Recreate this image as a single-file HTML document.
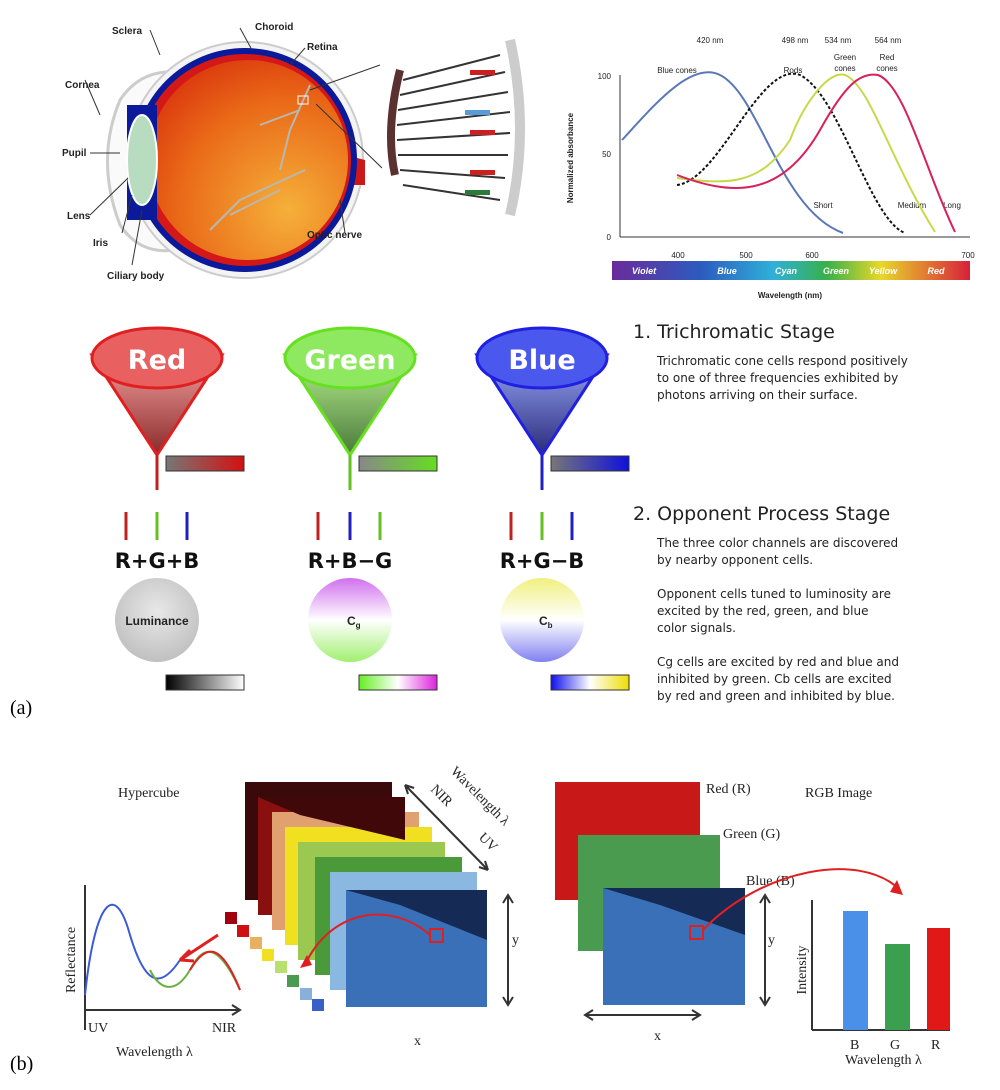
<!DOCTYPE html>
<html><head><meta charset="utf-8"><style>
body{margin:0;background:#fff;}
svg{display:block;font-family:"Liberation Sans",sans-serif;}
.s{font-family:"Liberation Serif",serif;}
.dv{font-family:"DejaVu Sans",sans-serif;}
</style></head><body>
<svg width="1000" height="1090" viewBox="0 0 1000 1090">
<defs>
<radialGradient id="eye" cx="0.7" cy="0.75" r="0.9"><stop offset="0" stop-color="#f5b03a"/><stop offset="0.6" stop-color="#ea6a18"/><stop offset="1" stop-color="#d8300c"/></radialGradient>
<linearGradient id="spec" x1="0" x2="1"><stop offset="0" stop-color="#6a2c9a"/><stop offset="0.25" stop-color="#2c5cc0"/><stop offset="0.45" stop-color="#2fb0d8"/><stop offset="0.6" stop-color="#38b04a"/><stop offset="0.75" stop-color="#e8d82a"/><stop offset="1" stop-color="#d8203a"/></linearGradient>
<linearGradient id="rc" x1="0" y1="0" x2="0" y2="1"><stop offset="0" stop-color="#f4a0a0"/><stop offset="1" stop-color="#8a2a2a"/></linearGradient>
<linearGradient id="gc" x1="0" y1="0" x2="0" y2="1"><stop offset="0" stop-color="#b8f090"/><stop offset="1" stop-color="#4a7a3a"/></linearGradient>
<linearGradient id="bc" x1="0" y1="0" x2="0" y2="1"><stop offset="0" stop-color="#9aa8f8"/><stop offset="1" stop-color="#2a2a7a"/></linearGradient>
<linearGradient id="rb" x1="0" x2="1"><stop offset="0" stop-color="#777"/><stop offset="1" stop-color="#d41010"/></linearGradient>
<linearGradient id="gb" x1="0" x2="1"><stop offset="0" stop-color="#888"/><stop offset="1" stop-color="#66dd22"/></linearGradient>
<linearGradient id="bb" x1="0" x2="1"><stop offset="0" stop-color="#777"/><stop offset="1" stop-color="#1010dd"/></linearGradient>
<linearGradient id="lb" x1="0" x2="1"><stop offset="0" stop-color="#000"/><stop offset="1" stop-color="#fff"/></linearGradient>
<linearGradient id="cgb" x1="0" x2="1"><stop offset="0" stop-color="#66ee22"/><stop offset="0.5" stop-color="#fff"/><stop offset="1" stop-color="#dd22dd"/></linearGradient>
<linearGradient id="cbb" x1="0" x2="1"><stop offset="0" stop-color="#1010ee"/><stop offset="0.5" stop-color="#fff"/><stop offset="1" stop-color="#eedd00"/></linearGradient>
<radialGradient id="lum" cx="0.5" cy="0.4" r="0.6"><stop offset="0" stop-color="#e8e8e8"/><stop offset="1" stop-color="#c0c0c0"/></radialGradient>
<linearGradient id="cg" x1="0" y1="0" x2="0" y2="1"><stop offset="0" stop-color="#d070ee"/><stop offset="0.5" stop-color="#fff"/><stop offset="1" stop-color="#a0f070"/></linearGradient>
<linearGradient id="cb" x1="0" y1="0" x2="0" y2="1"><stop offset="0" stop-color="#f0f080"/><stop offset="0.5" stop-color="#fff"/><stop offset="1" stop-color="#8080f0"/></linearGradient>
</defs>

<!-- Eye -->
<path d="M120,100 Q95,160 120,225 Q140,255 175,250 L175,72 Q140,70 120,100Z" fill="#fafafa" stroke="#ccc" stroke-width="3"/>
<circle cx="245" cy="160" r="118" fill="#f4f4f4" stroke="#ccc" stroke-width="2"/>
<path d="M325,150 L365,160 L365,185 L320,185Z" fill="#cc1818"/>
<circle cx="245" cy="160" r="112" fill="#0a1a9a"/>
<circle cx="245" cy="160" r="106" fill="#d41818"/>
<circle cx="248" cy="160" r="100" fill="url(#eye)"/>
<rect x="127" y="105" width="30" height="115" fill="#0a1a9a"/>
<ellipse cx="142" cy="160" rx="15" ry="45" fill="#b8dcc0" stroke="#fff" stroke-width="2"/>
<path d="M310,85 L290,130 L280,170 M300,110 L260,125 M305,170 L240,200 L210,230 M280,190 L230,215" stroke="#b8b8b0" stroke-width="2" fill="none"/>
<rect x="298" y="96" width="10" height="8" fill="none" stroke="#fff"/>
<g stroke="#333" stroke-width="1" fill="none">
<path d="M150,30 L160,55 M240,28 L252,50 M305,48 L290,65 M85,80 L100,115 M90,153 L120,153 M90,215 L128,178 M122,233 L132,195 M132,265 L142,210 M345,233 L340,200 M310,90 L380,65 M316,104 L382,168"/>
</g>
<g font-size="10" font-weight="bold" fill="#222">
<text x="112" y="34">Sclera</text><text x="255" y="30">Choroid</text><text x="307" y="50">Retina</text>
<text x="65" y="88">Cornea</text><text x="62" y="156">Pupil</text><text x="67" y="219">Lens</text>
<text x="93" y="246">Iris</text><text x="107" y="279">Ciliary body</text><text x="307" y="238">Optic nerve</text>
</g>
<!-- retina fan -->
<path d="M400,70 Q385,130 395,175" stroke="#5a3030" stroke-width="8" fill="none"/>
<g stroke="#333" stroke-width="2">
<line x1="403" y1="80" x2="500" y2="55"/><line x1="400" y1="95" x2="505" y2="72"/><line x1="398" y1="110" x2="508" y2="92"/><line x1="397" y1="125" x2="510" y2="112"/><line x1="397" y1="140" x2="510" y2="133"/><line x1="398" y1="155" x2="508" y2="155"/><line x1="400" y1="170" x2="505" y2="178"/><line x1="403" y1="185" x2="500" y2="200"/>
</g>
<g fill="#cc2020"><rect x="470" y="70" width="25" height="5"/><rect x="470" y="130" width="25" height="5"/><rect x="470" y="170" width="25" height="5"/></g>
<rect x="465" y="110" width="25" height="5" fill="#5a9ad8"/><rect x="465" y="190" width="25" height="5" fill="#2a7a3a"/>
<path d="M510,40 Q530,130 510,215" stroke="#ccc" stroke-width="10" fill="none"/>

<!-- spectral chart -->
<g stroke="#333" stroke-width="1"><line x1="620" y1="75" x2="620" y2="237"/><line x1="620" y1="237" x2="970" y2="237"/></g>
<g font-size="8" fill="#222">
<text x="611" y="79" text-anchor="end">100</text><text x="611" y="157" text-anchor="end">50</text><text x="611" y="240" text-anchor="end">0</text>
<text x="678" y="258" text-anchor="middle">400</text><text x="746" y="258" text-anchor="middle">500</text><text x="812" y="258" text-anchor="middle">600</text><text x="968" y="258" text-anchor="middle">700</text>
<text x="710" y="43" text-anchor="middle">420 nm</text><text x="795" y="43" text-anchor="middle">498 nm</text><text x="838" y="43" text-anchor="middle">534 nm</text><text x="888" y="43" text-anchor="middle">564 nm</text>
<text x="677" y="73" text-anchor="middle">Blue cones</text><text x="793" y="73" text-anchor="middle">Rods</text>
<text x="845" y="60" text-anchor="middle">Green</text><text x="845" y="71" text-anchor="middle">cones</text>
<text x="887" y="60" text-anchor="middle">Red</text><text x="887" y="71" text-anchor="middle">cones</text>
<text x="823" y="208" text-anchor="middle">Short</text><text x="912" y="208" text-anchor="middle">Medium</text><text x="952" y="208" text-anchor="middle">Long</text>
<text x="790" y="298" text-anchor="middle" font-weight="bold">Wavelength (nm)</text>
<text transform="translate(573,158) rotate(-90)" text-anchor="middle" font-weight="bold">Normalized absorbance</text>
</g>
<path d="M622,140 C650,110 690,60 720,75 C760,95 780,210 843,233" stroke="#5a78b8" stroke-width="2" fill="none"/>
<path d="M677,185 C720,180 760,60 800,75 C840,95 870,220 905,233" stroke="#111" stroke-width="2" stroke-dasharray="3,2" fill="none"/>
<path d="M677,178 C730,185 760,185 790,140 C805,100 830,70 845,75 C870,85 890,160 935,232" stroke="#c8d84a" stroke-width="2" fill="none"/>
<path d="M677,175 C730,195 780,200 820,130 C845,85 860,72 878,75 C905,85 925,170 955,232" stroke="#d8205a" stroke-width="2" fill="none"/>
<rect x="612" y="261" width="358" height="19" fill="url(#spec)"/>
<g font-size="9" font-style="italic" font-weight="bold" fill="#fff" text-anchor="middle">
<text x="644" y="274">Violet</text><text x="727" y="274">Blue</text><text x="786" y="274">Cyan</text><text x="836" y="274">Green</text><text x="883" y="274">Yellow</text><text x="936" y="274">Red</text></g>

<!-- cones -->
<g>
<path d="M92,355 L157,455 L222,355Z" fill="url(#rc)" stroke="#e02020" stroke-width="3"/>
<ellipse cx="157" cy="358" rx="65" ry="30" fill="#e86060" stroke="#e02020" stroke-width="3"/>
<line x1="157" y1="455" x2="157" y2="490" stroke="#c02020" stroke-width="3"/>
<text x="157" y="369" font-size="27" font-weight="bold" fill="#fff" text-anchor="middle" class="dv">Red</text>
<rect x="166" y="456" width="78" height="15" fill="url(#rb)" stroke="#333"/>

<path d="M285,355 L350,455 L415,355Z" fill="url(#gc)" stroke="#66e020" stroke-width="3"/>
<ellipse cx="350" cy="358" rx="65" ry="30" fill="#8ee860" stroke="#66e020" stroke-width="3"/>
<line x1="350" y1="455" x2="350" y2="490" stroke="#66c020" stroke-width="3"/>
<text x="350" y="369" font-size="27" font-weight="bold" fill="#fff" text-anchor="middle" class="dv">Green</text>
<rect x="359" y="456" width="78" height="15" fill="url(#gb)" stroke="#333"/>

<path d="M477,355 L542,455 L607,355Z" fill="url(#bc)" stroke="#2020e0" stroke-width="3"/>
<ellipse cx="542" cy="358" rx="65" ry="30" fill="#4a58ee" stroke="#2020e0" stroke-width="3"/>
<line x1="542" y1="455" x2="542" y2="490" stroke="#2020c0" stroke-width="3"/>
<text x="542" y="369" font-size="27" font-weight="bold" fill="#fff" text-anchor="middle" class="dv">Blue</text>
<rect x="551" y="456" width="78" height="15" fill="url(#bb)" stroke="#333"/>
</g>
<g stroke-width="3">
<line x1="126" y1="512" x2="126" y2="540" stroke="#c02020"/><line x1="157" y1="512" x2="157" y2="540" stroke="#66c020"/><line x1="187" y1="512" x2="187" y2="540" stroke="#2020c0"/>
<line x1="318" y1="512" x2="318" y2="540" stroke="#c02020"/><line x1="350" y1="512" x2="350" y2="540" stroke="#2020c0"/><line x1="380" y1="512" x2="380" y2="540" stroke="#66c020"/>
<line x1="511" y1="512" x2="511" y2="540" stroke="#c02020"/><line x1="542" y1="512" x2="542" y2="540" stroke="#66c020"/><line x1="572" y1="512" x2="572" y2="540" stroke="#2020c0"/>
</g>
<g font-size="21" font-weight="bold" fill="#111" text-anchor="middle" class="dv">
<text x="157" y="568">R+G+B</text><text x="350" y="568">R+B−G</text><text x="542" y="568">R+G−B</text></g>
<circle cx="157" cy="620" r="42" fill="url(#lum)"/>
<text x="157" y="625" font-size="12" font-weight="bold" text-anchor="middle" fill="#222">Luminance</text>
<circle cx="350" cy="620" r="42" fill="url(#cg)"/>
<text x="347" y="625" font-size="12" font-weight="bold" fill="#222">C<tspan font-size="8" dy="3">g</tspan></text>
<circle cx="542" cy="620" r="42" fill="url(#cb)"/>
<text x="539" y="625" font-size="12" font-weight="bold" fill="#222">C<tspan font-size="8" dy="3">b</tspan></text>
<rect x="166" y="675" width="78" height="15" fill="url(#lb)" stroke="#333"/>
<rect x="359" y="675" width="78" height="15" fill="url(#cgb)" stroke="#333"/>
<rect x="551" y="675" width="78" height="15" fill="url(#cbb)" stroke="#333"/>

<g class="dv" fill="#222">
<text x="633" y="338" font-size="19">1. Trichromatic Stage</text>
<g font-size="12"><text x="657" y="365">Trichromatic cone cells respond positively</text><text x="657" y="382">to one of three frequencies exhibited by</text><text x="657" y="399">photons arriving on their surface.</text></g>
<text x="633" y="520" font-size="19">2. Opponent Process Stage</text>
<g font-size="12"><text x="657" y="547">The three color channels are discovered</text><text x="657" y="564">by nearby opponent cells.</text>
<text x="657" y="598">Opponent cells tuned to luminosity are</text><text x="657" y="615">excited by the red, green, and blue</text><text x="657" y="632">color signals.</text>
<text x="657" y="666">Cg cells are excited by red and blue and</text><text x="657" y="683">inhibited by green. Cb cells are excited</text><text x="657" y="700">by red and green and inhibited by blue.</text></g>
</g>
<text x="10" y="714" font-size="20" class="s">(a)</text>

<!-- (b) -->
<text x="10" y="1070" font-size="20" class="s">(b)</text>
<g class="s" fill="#222" font-size="14">
<text x="118" y="797">Hypercube</text><text x="805" y="797">RGB Image</text>
<text x="706" y="793">Red (R)</text><text x="723" y="838">Green (G)</text><text x="746" y="885">Blue (B)</text>
<text x="88" y="1032">UV</text><text x="212" y="1032">NIR</text><text x="116" y="1056">Wavelength λ</text>
<text x="414" y="1045">x</text><text x="512" y="944">y</text><text x="654" y="1040">x</text><text x="768" y="944">y</text>
<text x="850" y="1049">B</text><text x="890" y="1049">G</text><text x="931" y="1049">R</text><text x="845" y="1064">Wavelength λ</text>
<text transform="translate(75,960) rotate(-90)" text-anchor="middle">Reflectance</text>
<text transform="translate(806,970) rotate(-90)" text-anchor="middle">Intensity</text>
<text transform="translate(430,790) rotate(45)">NIR</text>
<text transform="translate(450,772) rotate(45)">Wavelength λ</text>
<text transform="translate(478,838) rotate(45)">UV</text>
</g>
<g stroke="#333" stroke-width="2" fill="none">
<path d="M85,1030 L85,885 M85,1010 L240,1010 M232,1005 L240,1010 L232,1015"/>
<path d="M812,1030 L812,900 M812,1030 L950,1030"/>
<path d="M405,785 L488,870 M405,785 L414,788 M405,785 L408,794 M488,870 L479,867 M488,870 L485,861"/>
<path d="M508,895 L508,1005 M503,903 L508,895 L513,903 M503,997 L508,1005 L513,997"/>
<path d="M585,1015 L700,1015 M593,1010 L585,1015 L593,1020 M692,1010 L700,1015 L692,1020"/>
<path d="M765,895 L765,1005 M760,903 L765,895 L770,903 M760,997 L765,1005 L770,997"/>
</g>
<path d="M85,995 C95,900 115,880 130,935 C145,985 160,990 180,960" stroke="#3a5ad8" stroke-width="2" fill="none"/>
<path d="M150,970 C160,990 175,995 190,970 C200,950 215,935 240,990" stroke="#6ab040" stroke-width="2" fill="none"/>
<path d="M190,970 C205,945 220,940 240,990" stroke="#e02020" stroke-width="2" fill="none"/>
<path d="M218,935 L180,960 M180,960 L190,950 M180,960 L194,961" stroke="#e02020" stroke-width="3" fill="none"/>
<!-- hypercube frames -->
<g>
<rect x="245" y="782" width="147" height="118" fill="#3a0a0a"/>
<rect x="258" y="797" width="147" height="118" fill="#8a1010"/>
<rect x="272" y="812" width="147" height="118" fill="#e0a070"/>
<rect x="285" y="827" width="147" height="118" fill="#f0e020"/>
<rect x="298" y="842" width="147" height="118" fill="#9ac850"/>
<rect x="315" y="857" width="147" height="118" fill="#4a9a3a"/>
<rect x="330" y="872" width="147" height="118" fill="#8ab8e0"/>
<rect x="346" y="890" width="141" height="117" fill="#3a70b8"/>
<path d="M258,797 L405,797 L405,840 L300,815Z" fill="#400808"/>
<path d="M346,890 L487,890 L487,940 L400,905Z" fill="#152a55"/>
</g>
<g>
<rect x="225" y="912" width="12" height="12" fill="#a00010"/><rect x="237" y="925" width="12" height="12" fill="#d01010"/>
<rect x="250" y="937" width="12" height="12" fill="#e8b060"/><rect x="262" y="949" width="12" height="12" fill="#f0e020"/>
<rect x="275" y="961" width="12" height="12" fill="#b8e070"/><rect x="287" y="975" width="12" height="12" fill="#4a9a50"/>
<rect x="300" y="988" width="12" height="12" fill="#88b0d8"/><rect x="312" y="999" width="12" height="12" fill="#3a60c8"/>
</g>
<rect x="430" y="929" width="13" height="13" fill="none" stroke="#e02020" stroke-width="2"/>
<path d="M430,935 C390,900 330,910 305,965" stroke="#e02020" stroke-width="2" fill="none"/>
<path d="M300,968 L307,955 L312,965Z" fill="#e02020"/>
<!-- RGB stack -->
<rect x="555" y="782" width="145" height="118" fill="#c81818"/>
<rect x="578" y="835" width="142" height="116" fill="#4a9a50"/>
<rect x="603" y="888" width="142" height="117" fill="#3a70b8"/>
<path d="M603,888 L745,888 L745,935 L660,905Z" fill="#152a55"/>
<rect x="690" y="926" width="13" height="13" fill="none" stroke="#e02020" stroke-width="2"/>
<path d="M703,930 C760,870 860,850 900,890" stroke="#e02020" stroke-width="2" fill="none"/>
<path d="M897,880 L903,895 L890,892Z" fill="#e02020"/>
<rect x="843" y="911" width="25" height="119" fill="#4a90e8"/>
<rect x="885" y="944" width="25" height="86" fill="#3aa050"/>
<rect x="927" y="928" width="23" height="102" fill="#e01818"/>
</svg>
</body></html>
